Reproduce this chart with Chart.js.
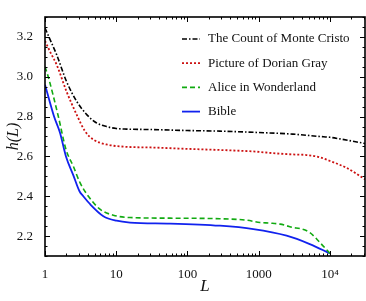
<!DOCTYPE html>
<html><head><meta charset="utf-8">
<script src="https://cdn.jsdelivr.net/npm/chart.js@4.4.1/dist/chart.umd.min.js"></script>
<style>html,body{margin:0;padding:0;background:#fff}#c{display:block}</style>
</head><body>
<canvas id="c" width="366" height="301"></canvas>
<script>
// ---- data ----
const seriesNames = ['The Count of Monte Cristo','Picture of Dorian Gray','Alice in Wonderland','Bible'];
const monteL = [1,1.2,1.46,2,2.78,3.85,5.3,7.3,10,14,30,100,285,1000,3000,7200,10000,13700,31000];
const monteH = [3.245,3.18,3.11,2.977,2.877,2.81,2.768,2.75,2.74,2.737,2.735,2.73,2.727,2.72,2.712,2.70,2.696,2.688,2.665];
const dorianL = [1,1.2,1.46,2,2.78,3.64,4.75,7.3,14,30,97,300,830,1780,3000,4700,7000,10000,17000,31000];
const dorianH = [3.18,3.12,3.06,2.927,2.81,2.727,2.685,2.66,2.648,2.645,2.638,2.632,2.625,2.615,2.61,2.607,2.597,2.577,2.543,2.485];
const aliceL = [1,1.11,1.54,1.97,2.5,3.1,4.06,5.9,9.1,15.6,57,285,675,1040,1440,2000,2460,3000,3770,5200,7200,10000];
const aliceH = [3.05,3.0,2.8,2.635,2.55,2.468,2.40,2.335,2.305,2.293,2.29,2.287,2.28,2.268,2.265,2.26,2.252,2.243,2.238,2.218,2.168,2.113];
const bibleL = [1,1.34,1.62,1.97,2.5,3.05,3.45,4.3,6.6,10.1,15.6,57,285,840,2460,5200,10000];
const bibleH = [2.96,2.8,2.72,2.6,2.505,2.425,2.40,2.36,2.30,2.277,2.268,2.263,2.252,2.235,2.202,2.16,2.113];
const xTickValues = [1,10,100,1000,10000];
const xTickLabels = ['1','10','100','1000','10\u2074'];
const yTickValues = [2.2,2.4,2.6,2.8,3.0,3.2];
const yTickLabels = ['2.2','2.4','2.6','2.8','3.0','3.2'];
const xMin = 1, xMax = 31000, yMin = 2.1, yMax = 3.3;

const pts = (L,H) => L.map((l,i)=>({x:l,y:H[i]}));
const serif = "'Liberation Serif', 'DejaVu Serif', serif";

const frame = {
  id:'frame',
  afterDatasetsDraw(chart){
    const {ctx, chartArea:a, scales:{x,y}} = chart;
    ctx.save();
    ctx.strokeStyle='#000';
    ctx.lineWidth=1;
    // x ticks (major + minor)
    for (let d=0; d<=4; d++){
      for (let k=1; k<=9; k++){
        const v = k*Math.pow(10,d);
        if (v<xMin || v>xMax) continue;
        const px = Math.round(x.getPixelForValue(v))+0.5;
        const len = k===1?5:2.5;
        ctx.beginPath();
        ctx.moveTo(px,a.bottom); ctx.lineTo(px,a.bottom-len);
        ctx.moveTo(px,a.top); ctx.lineTo(px,a.top+len);
        ctx.stroke();
      }
    }
    // y ticks
    for (let i=0;i<=24;i++){
      const v = yMin + i*0.05;
      const major = yTickValues.some(t=>Math.abs(t-v)<1e-6);
      const py = Math.round(y.getPixelForValue(v))+0.5;
      const len = major?5:2.5;
      ctx.beginPath();
      ctx.moveTo(a.left,py); ctx.lineTo(a.left+len,py);
      ctx.moveTo(a.right,py); ctx.lineTo(a.right-len,py);
      ctx.stroke();
    }
    ctx.lineWidth=1.6;
    ctx.strokeRect(a.left, a.top, a.right-a.left, a.bottom-a.top);
    // legend
    ctx.font = "13px " + serif;
    ctx.textBaseline='middle';
    ctx.textAlign='left';
    chart.data.datasets.forEach((ds,i)=>{
      const yy = a.top + 22 + i*24.2;
      const x0 = a.right - 183;
      ctx.save();
      ctx.strokeStyle = ds.borderColor;
      ctx.lineWidth = ds.borderWidth;
      ctx.setLineDash(ds.borderDash||[]);
      ctx.beginPath(); ctx.moveTo(x0,yy); ctx.lineTo(x0+18,yy); ctx.stroke();
      ctx.restore();
      ctx.fillStyle='#111';
      ctx.fillText(ds.label, x0+26, yy);
    });
    ctx.restore();
  }
};

new Chart(document.getElementById('c'), {
  type:'line',
  data:{ datasets:[
    {label:seriesNames[0], data:pts(monteL,monteH), borderColor:'#000000', borderWidth:1.6, borderDash:[5,2,1.5,2]},
    {label:seriesNames[1], data:pts(dorianL,dorianH), borderColor:'#cc1111', borderWidth:1.8, borderDash:[2,2]},
    {label:seriesNames[2], data:pts(aliceL,aliceH), borderColor:'#11aa11', borderWidth:1.6, borderDash:[5,3]},
    {label:seriesNames[3], data:pts(bibleL,bibleH), borderColor:'#1122ee', borderWidth:1.8}
  ]},
  options:{
    responsive:false, animation:false,
    layout:{padding:{top:17,right:1,left:0,bottom:0}},
    elements:{point:{radius:0}, line:{cubicInterpolationMode:'monotone', fill:false}},
    plugins:{legend:{display:false}, tooltip:{enabled:false}},
    scales:{
      x:{type:'logarithmic', min:xMin, max:xMax,
        afterBuildTicks(s){ s.ticks = xTickValues.map(v=>({value:v})); },
        afterFit(s){ s.height = 45; },
        grid:{display:false}, border:{display:false},
        ticks:{autoSkip:false, maxRotation:0, padding:3, color:'#111', font:{family:serif, size:13},
          callback:(v,i)=>xTickLabels[i]},
        title:{display:true, text:'L', color:'#111', padding:{top:2,bottom:4}, font:{family:serif, size:17, style:'italic'}}
      },
      y:{type:'linear', min:yMin, max:yMax,
        afterBuildTicks(s){ s.ticks = yTickValues.map(v=>({value:v})); },
        afterFit(s){ s.width = 45; },
        grid:{display:false}, border:{display:false},
        ticks:{autoSkip:false, padding:4, color:'#111', font:{family:serif, size:13},
          callback:(v,i)=>yTickLabels[i]},
        title:{display:true, text:'h(L)', color:'#111', padding:{top:4,bottom:2}, font:{family:serif, size:16, style:'italic'}}
      }
    }
  },
  plugins:[frame]
});
</script>
</body></html>
